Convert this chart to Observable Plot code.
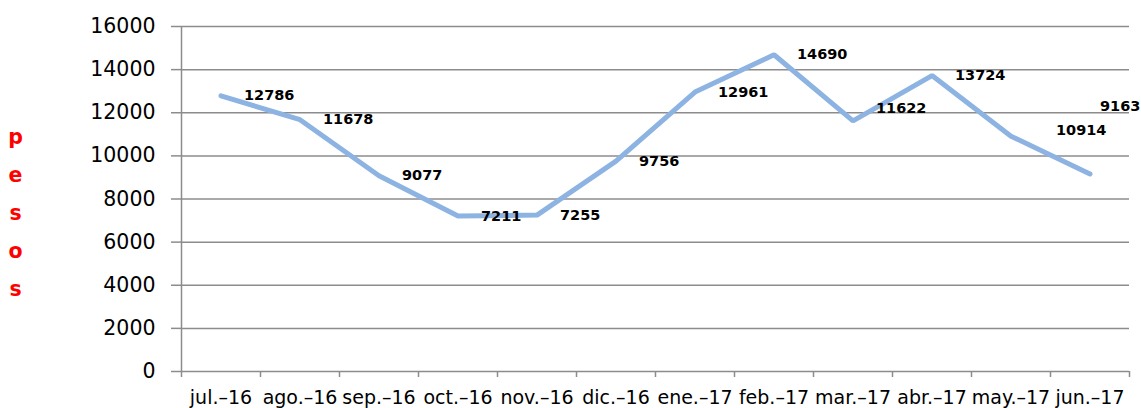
<!DOCTYPE html>
<html>
<head>
<meta charset="utf-8">
<script src="https://cdn.jsdelivr.net/npm/d3@7"></script>
<script src="https://cdn.jsdelivr.net/npm/@observablehq/plot@0.6"></script>
<style>
  html, body { margin: 0; padding: 0; background: #fff; }
</style>
</head>
<body>
<div id="chart"></div>
<script>
const months = ["jul.–16", "ago.–16", "sep.–16", "oct.–16", "nov.–16", "dic.–16",
                "ene.–17", "feb.–17", "mar.–17", "abr.–17", "may.–17", "jun.–17"];
const values = [12786, 11678, 9077, 7211, 7255, 9756, 12961, 14690, 11622, 13724, 10914, 9163];
const yTicks = [0, 2000, 4000, 6000, 8000, 10000, 12000, 14000, 16000];
const yLabel = "pesos";

const data = months.map((m, i) => ({month: m, i, x: i + 0.5, value: values[i]}));
const boundaries = d3.range(0, months.length + 1);
const centers = months.map((m, i) => i + 0.5);

const gray = "#8c8c8c";
const labelStyle = {x: "x", y: "value", text: d => String(d.value), textAnchor: "start",
  fontWeight: "bold", fontSize: 14.5, fontFamily: "DejaVu Sans", fill: "black"};

const special = {8: {dx: 23, dy: -13}, 10: {dx: 45, dy: -6}, 11: {dx: 10, dy: -68}};

const chart = Plot.plot({
  width: 1141,
  height: 408,
  marginLeft: 181,
  marginRight: 12,
  marginTop: 26,
  marginBottom: 37,
  style: {fontFamily: "DejaVu Sans", background: "#fff", color: "black"},
  x: {domain: [0, months.length], label: null},
  y: {domain: [0, 16000], label: null},
  marks: [
    Plot.gridY(yTicks, {stroke: gray, strokeOpacity: 1, strokeWidth: 1.5}),
    Plot.ruleX([0], {stroke: gray, strokeWidth: 1.5}),
    Plot.axisY(yTicks, {tickSize: 10, tickPadding: 16, stroke: gray, strokeWidth: 1.5, fill: "black",
      fontSize: 20.5, fontFamily: "DejaVu Sans", label: null, tickFormat: d => String(d)}),
    Plot.axisX(boundaries, {tickSize: 6, stroke: gray, strokeWidth: 1.5, tickFormat: () => "", label: null}),
    Plot.axisX(centers, {tickSize: 0, tickPadding: 19, fill: "black", fontSize: 19,
      fontFamily: "DejaVu Sans", tickFormat: d => months[Math.floor(d)], label: null}),
    Plot.line(data, {x: "x", y: "value", stroke: "#8db3e2", strokeWidth: 5, strokeLinejoin: "miter"}),
    Plot.text(data.filter(d => !special[d.i]), {...labelStyle, dx: 23}),
    ...Object.keys(special).map(k => Plot.text(data.filter(d => d.i === +k),
      {...labelStyle, dx: special[k].dx, dy: special[k].dy})),
    Plot.text([yLabel.split("").join("\n")], {text: d => d, frameAnchor: "left", dx: -166, dy: 9,
      lineHeight: 1.85, fill: "red", fontWeight: "bold", fontSize: 20.5, fontFamily: "DejaVu Sans",
      textAnchor: "middle"})
  ]
});
document.getElementById("chart").appendChild(chart);
</script>
</body>
</html>
